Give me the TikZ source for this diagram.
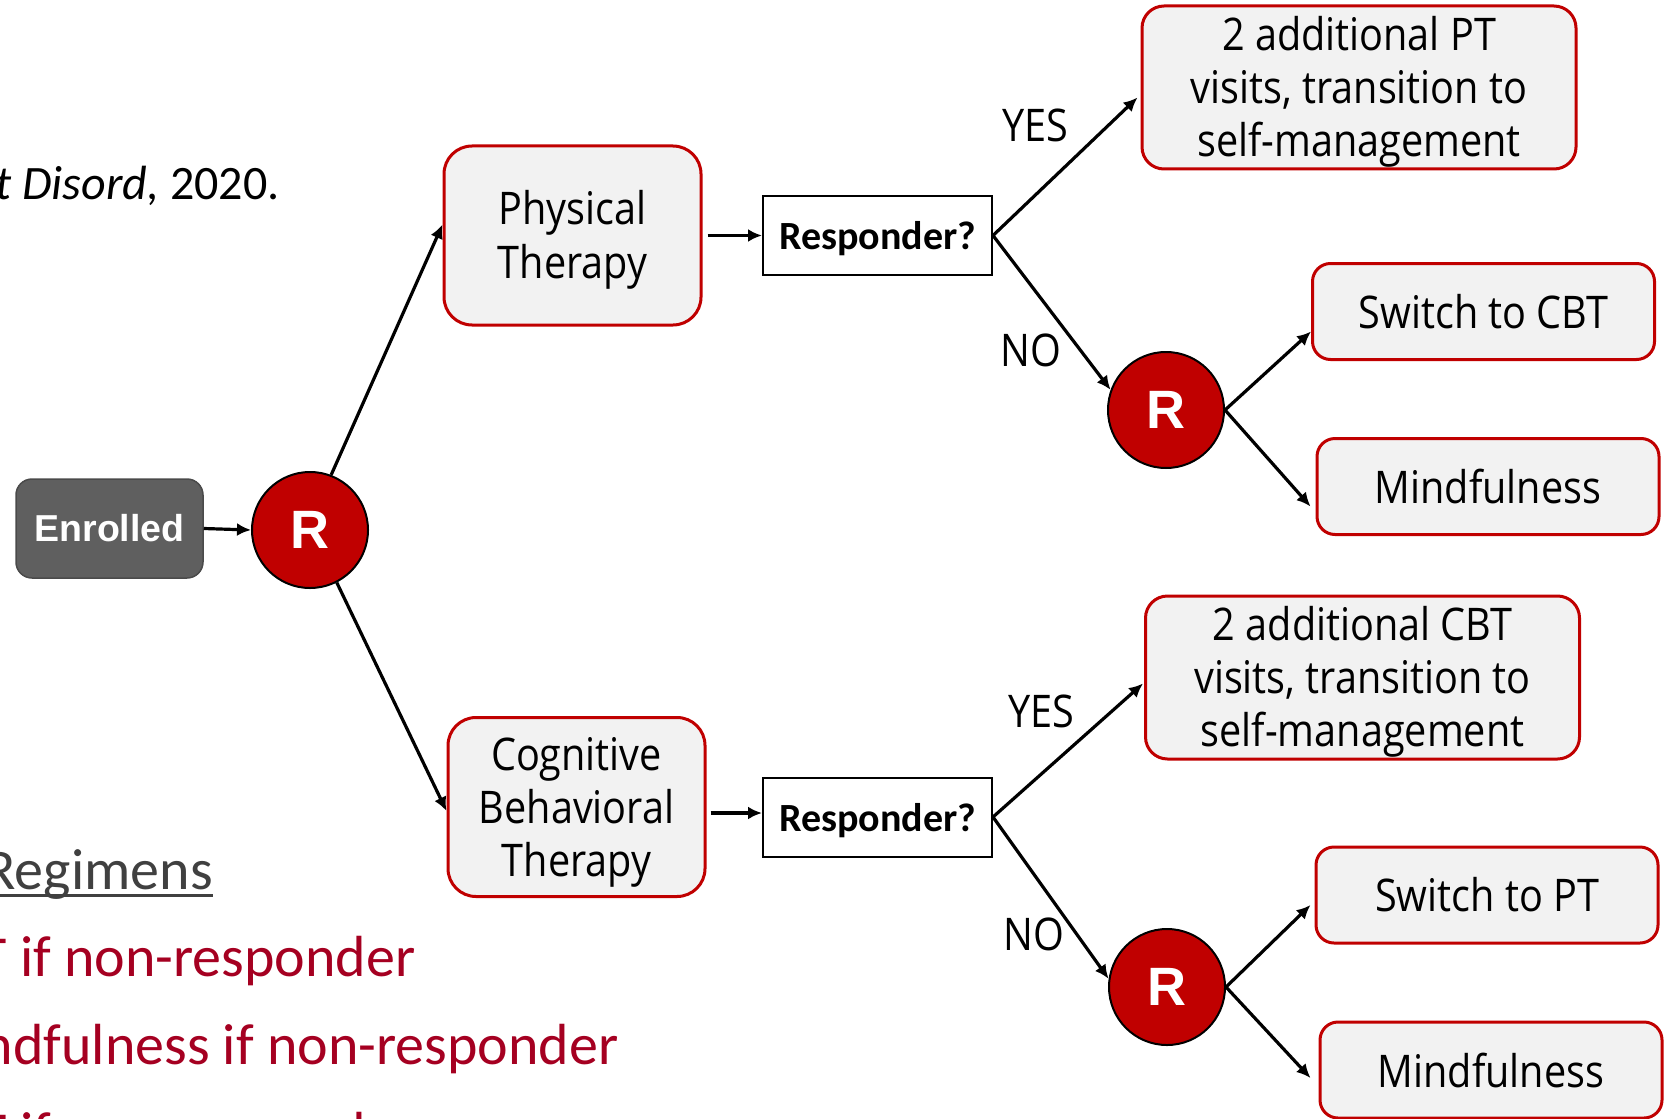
\documentclass[tikz,border=0pt]{standalone}
\usepackage{fontspec}
\setmainfont{Carlito}
\newfontfamily\boxfont[FakeStretch=0.88]{Open Sans}
\newfontfamily\headfont{Liberation Sans}
\usetikzlibrary{arrows.meta,calc}
\definecolor{boxred}{HTML}{C00000}
\definecolor{boxfill}{HTML}{F2F2F2}
\definecolor{enrolgrey}{HTML}{5F5F5F}
\definecolor{enroledge}{HTML}{4A4A4A}
\definecolor{notered}{HTML}{A50021}
\definecolor{headgrey}{HTML}{404040}
% stacked lines, set slightly below the box centre
\newcommand{\boxlines}[1]{\raisebox{-2.7pt}[\height][\depth]{\begin{tabular}{@{}c@{}}#1\end{tabular}}}

\begin{document}
\begin{tikzpicture}[x=0.5pt,y=-0.5pt,
  arm/.style={line width=1.6pt, -{Latex[length=7pt,width=6.5pt]}},
  treat/.style={draw=boxred, fill=boxfill, line width=1.5pt, align=center,
    inner sep=0pt, font=\boxfont\fontsize{22.5}{26.5}\selectfont},
  bigtreat/.style={treat, rounded corners=14pt, minimum width=128.5pt, minimum height=89.5pt},
  outcome/.style={treat, rounded corners=11pt, minimum width=217pt, minimum height=81.5pt},
  choice/.style={treat, rounded corners=9pt, minimum width=171pt, minimum height=48pt},
  query/.style={draw=black, fill=white, line width=1pt, minimum width=114.5pt,
    minimum height=39.5pt, inner sep=0pt, text depth=0pt,
    font=\bfseries\fontsize{20}{24}\selectfont},
  rand/.style={circle, draw=black, fill=boxred, line width=1pt, minimum size=58pt,
    inner sep=0pt, text=white, font=\headfont\bfseries\fontsize{27}{30}\selectfont},
  enrol/.style={draw=enroledge, fill=enrolgrey, line width=0.75pt, rounded corners=8pt,
    minimum width=93.5pt, minimum height=49.5pt, inner sep=0pt, text=white,
    font=\headfont\bfseries\fontsize{18.75}{22}\selectfont},
  branch/.style={font=\boxfont\fontsize{22.5}{26.5}\selectfont, inner sep=0pt},
  regline/.style={anchor=base east, inner sep=0pt, text=notered,
    font=\fontsize{29}{34}\selectfont}
]
\useasboundingbox (0,0) rectangle (1673,1118);
\clip (0,0) rectangle (1673,1118);

% citation and regimen list on the left
\node[anchor=base east, inner sep=0pt, font=\fontsize{24}{28}\selectfont] (cite) at (280,199)
  {\textit{Musculoskelet Disord,} 2020.};
\node[anchor=base east, inner sep=0pt, text=headgrey, font=\fontsize{29}{34}\selectfont]
  (reg) at (213,889) {Treatment Regimens};
\draw[headgrey, line width=1.5pt] ($(reg.base west)+(0,6)$) -- ($(reg.base east)+(0,6)$);
\node[regline] (reg1) at (416,976) {CBT if non-responder};
\node[regline] (reg2) at (619,1064) {Mindfulness if non-responder};
\node[regline] (reg3) at (416,1152) {PT if non-responder};

% first stage
\node[enrol] (enr) at (109.5,528.5) {Enrolled};
\node[rand] (R0) at (310,530) {R};
\node[bigtreat] (pt) at (572.5,235.5) {\boxlines{Physical\\Therapy}};
\node[bigtreat] (cbt) at (576.5,807) {\boxlines{Cognitive\\Behavioral\\Therapy}};
\node[query] (resp1) at (877.5,235.5) {Responder?};
\node[query] (resp2) at (877.5,817) {Responder?};

% second stage, upper branch
\node[outcome] (out1) at (1359,87.5) {\boxlines{2 additional PT\\visits, transition to\\self-management}};
\node[rand] (R1) at (1166,410) {R};
\node[choice] (sw1) at (1483.5,311.5) {Switch to CBT};
\node[choice] (mf1) at (1488,486.5) {Mindfulness};

% second stage, lower branch
\node[outcome] (out2) at (1362.5,677.5) {\boxlines{2 additional CBT\\visits, transition to\\self-management}};
\node[rand] (R2) at (1167,987) {R};
\node[choice] (sw2) at (1487,895) {Switch to PT};
\node[choice] (mf2) at (1491,1070) {Mindfulness};

% branch labels
\node[branch] (yes1) at (1035,125) {YES};
\node[branch] (no1) at (1031,350) {NO};
\node[branch] (yes2) at (1041,711) {YES};
\node[branch] (no2) at (1034,934) {NO};

% connectors
\draw[arm] (enr.east) -- (R0.west);
\draw[arm] (R0.69) -- ($(pt.west)+(0,-11)$);
\draw[arm] (R0.-63) -- ($(cbt.west)+(0,4)$);
\draw[arm] ($(pt.east)+(5,0)$) -- (resp1.west);
\draw[arm] ($(cbt.east)+(4,6)$) -- ($(resp2.west)+(0,-4)$);
\draw[arm] (resp1.east) -- ($(out1.west)+(-3,10)$);
\draw[arm] (resp1.east) -- (R1.160);
\draw[arm] (resp2.east) -- ($(out2.west)+(-1,6)$);
\draw[arm] (resp2.east) -- (R2.172);
\draw[arm] (R1.east) -- ($(sw1.west)+(0,20)$);
\draw[arm] (R1.east) -- ($(mf1.west)+(-5,20)$);
\draw[arm] (R2.east) -- ($(sw2.west)+(-4,10)$);
\draw[arm] (R2.east) -- ($(mf2.west)+(-8,8)$);
\end{tikzpicture}
\end{document}
